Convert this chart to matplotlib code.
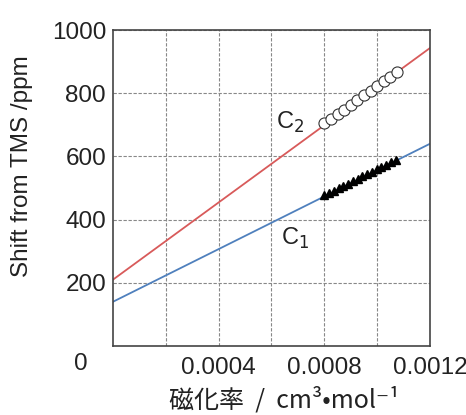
import matplotlib
matplotlib.use("Agg")
import matplotlib.pyplot as plt

# Fitted lines (x range endpoints and values)
line_x = [0.0, 0.0012]
c2_line = [210, 943]
c1_line = [140, 640]

# C2 data (open circles)
c2_x = [0.00080, 0.000825, 0.00085, 0.000875, 0.00090, 0.000925,
        0.00095, 0.000975, 0.00100, 0.001025, 0.00105, 0.001075]
c2_y = [705, 718, 733, 748, 763, 778, 793, 808, 823, 838, 852, 866]

# C1 data (filled triangles)
c1_x = [0.00080, 0.000818, 0.000836, 0.000854, 0.000872, 0.00089, 0.000908,
        0.000926, 0.000944, 0.000962, 0.00098, 0.000998, 0.001016, 0.001034,
        0.001052, 0.00107]
c1_y = [477, 484, 492, 499, 507, 514, 522, 529, 537, 544, 552, 559, 567, 574,
        582, 589]

xticks = [0.0004, 0.0008, 0.0012]
xticklabels = ["0.0004", "0.0008", "0.0012"]
yticks = [200, 400, 600, 800, 1000]
yticklabels = ["200", "400", "600", "800", "1000"]

plt.rcParams['font.family'] = ['Liberation Sans', 'Noto Sans CJK JP', 'DejaVu Sans']
TXT = '#222222'

fig = plt.figure(figsize=(4.66, 4.15), dpi=100)
ax = fig.add_axes([0.2425, 0.1663, 0.6802, 0.7614])

ax.plot(line_x, c2_line, color='#d85a5a', lw=1.3, zorder=2)
ax.plot(line_x, c1_line, color='#4f80bd', lw=1.3, zorder=2)
ax.plot(c2_x, c2_y, 'o', mfc='white', mec='#333333', mew=0.8, ms=8, zorder=3)
ax.plot(c1_x, c1_y, '^', color='black', ms=5.5, zorder=3)

ax.set_xlim(0, 0.0012)
ax.set_ylim(0, 1000)
ax.set_xticks(xticks)
ax.set_xticklabels(xticklabels, fontsize=17.5, color=TXT)
ax.set_yticks(yticks)
ax.set_yticklabels(yticklabels, fontsize=17.5, color=TXT)
ax.set_xticks([0.0002, 0.0006, 0.0010], minor=True)
ax.tick_params(which='both', length=0)
ax.tick_params(axis='x', pad=8)
ax.tick_params(axis='y', pad=5)
ax.grid(True, which='both', color='#888888', lw=0.8, ls=(0, (3, 1.5)))
for s in ax.spines.values():
    s.set_color('#444444')
    s.set_linewidth(1.2)

fig.text(81 / 466, 1 - 364 / 415, "0", fontsize=17.5, color=TXT,
         ha='center', va='center')

ax.text(0.00067, 709, "C$_2$", fontsize=17, color=TXT, ha='center', va='center')
ax.text(0.00069, 342, "C$_1$", fontsize=17, color=TXT, ha='center', va='center')

fig.text(22 / 466, 1 - 166 / 415, "Shift from TMS /ppm", fontsize=17.5, color=TXT,
         rotation=90, ha='center', va='center')
fig.text(284 / 466, 1 - 400 / 415, "磁化率  /  cm³•mol⁻¹", fontsize=18, color=TXT,
         ha='center', va='center', family=['Noto Sans CJK JP', 'DejaVu Sans'])

fig.savefig("out.png", dpi=100, facecolor='white')
